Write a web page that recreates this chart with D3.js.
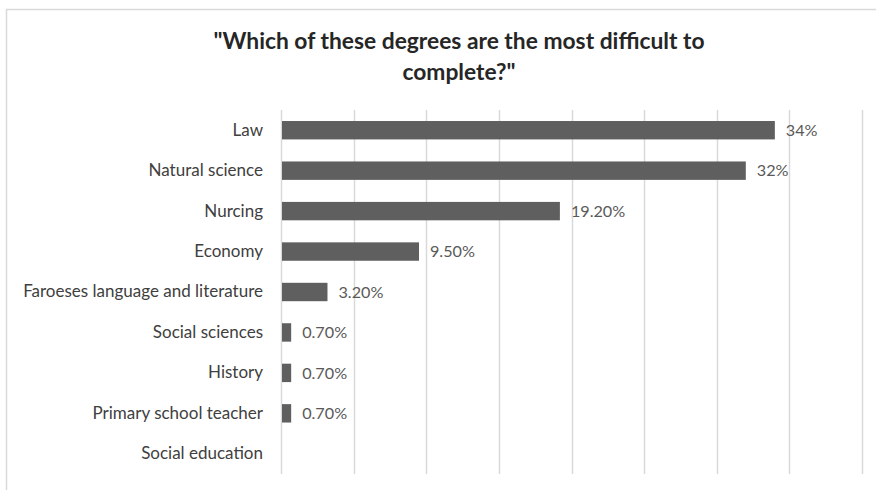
<!DOCTYPE html>
<html>
<head>
<meta charset="utf-8">
<script src="https://cdn.jsdelivr.net/npm/d3@7"></script>
<style>
  html, body { margin: 0; padding: 0; background: #ffffff; }
  svg { display: block; font-family: Lato, "Open Sans", sans-serif; }
</style>
</head>
<body>
<svg id="chart" width="876" height="490"></svg>
<script>
// Survey answers, top to bottom
const categories = [
  "Law",
  "Natural science",
  "Nurcing",
  "Economy",
  "Faroeses language and literature",
  "Social sciences",
  "History",
  "Primary school teacher",
  "Social education"
];
const shares = [0.34, 0.32, 0.192, 0.095, 0.032, 0.007, 0.007, 0.007, 0];
const valueLabels = ["34%", "32%", "19.20%", "9.50%", "3.20%", "0.70%", "0.70%", "0.70%", ""];
const gridTicks = [0, 0.05, 0.10, 0.15, 0.20, 0.25, 0.30, 0.35, 0.40];
const titleLines = ['"Which of these degrees are the most difficult to', 'complete?"'];

const svg = d3.select("#chart");
const W = 876, H = 490;

// Chart-area frame (runs off the right and bottom edges)
svg.append("rect")
  .attr("x", 6.5).attr("y", 9.5)
  .attr("width", W + 20).attr("height", H + 20)
  .attr("fill", "#ffffff")
  .attr("stroke", "#d9d9d9")
  .attr("stroke-width", 1.5);

// Title
const title = svg.append("text")
  .attr("text-anchor", "middle")
  .attr("font-weight", "bold")
  .attr("font-size", 22.8)
  .attr("fill", "#262626");
titleLines.forEach((line, i) => {
  title.append("tspan")
    .attr("x", 459)
    .attr("y", 48.5 + i * 31)
    .text(line);
});

const plot = { left: 281, right: 862, top: 110, bottom: 474 };

const x = d3.scaleLinear()
  .domain([0, 0.4])
  .range([plot.left, plot.right]);

const y = d3.scaleBand()
  .domain(categories)
  .range([plot.top, plot.bottom])
  .paddingInner(0.545)
  .paddingOuter(0.2725);

// Vertical gridlines
svg.append("g")
  .selectAll("line")
  .data(gridTicks)
  .join("line")
  .attr("x1", d => Math.round(x(d)) + 0.5)
  .attr("x2", d => Math.round(x(d)) + 0.5)
  .attr("y1", plot.top)
  .attr("y2", plot.bottom)
  .attr("stroke", "#d9d9d9")
  .attr("stroke-width", 1.5);

// Category axis labels
const yAxis = d3.axisLeft(y).tickSize(0).tickPadding(18);
const yAxisG = svg.append("g")
  .attr("transform", `translate(${plot.left},0)`)
  .call(yAxis);
yAxisG.select(".domain").remove();
yAxisG.selectAll("text")
  .attr("font-family", "Lato, 'Open Sans', sans-serif")
  .attr("font-size", 17)
  .attr("fill", "#404040");

// Bars
svg.append("g")
  .selectAll("rect")
  .data(categories)
  .join("rect")
  .attr("x", x(0) + 1)
  .attr("y", d => y(d))
  .attr("width", (d, i) => Math.max(0, x(shares[i]) - x(0) - 1))
  .attr("height", y.bandwidth())
  .attr("fill", "#5f5f5f");

// Value labels
svg.append("g")
  .selectAll("text")
  .data(categories)
  .join("text")
  .attr("x", (d, i) => x(shares[i]) + 11)
  .attr("y", d => y(d) + y.bandwidth() / 2)
  .attr("dy", "0.36em")
  .attr("font-size", 16.2)
  .attr("fill", "#595959")
  .text((d, i) => valueLabels[i]);
</script>
</body>
</html>
